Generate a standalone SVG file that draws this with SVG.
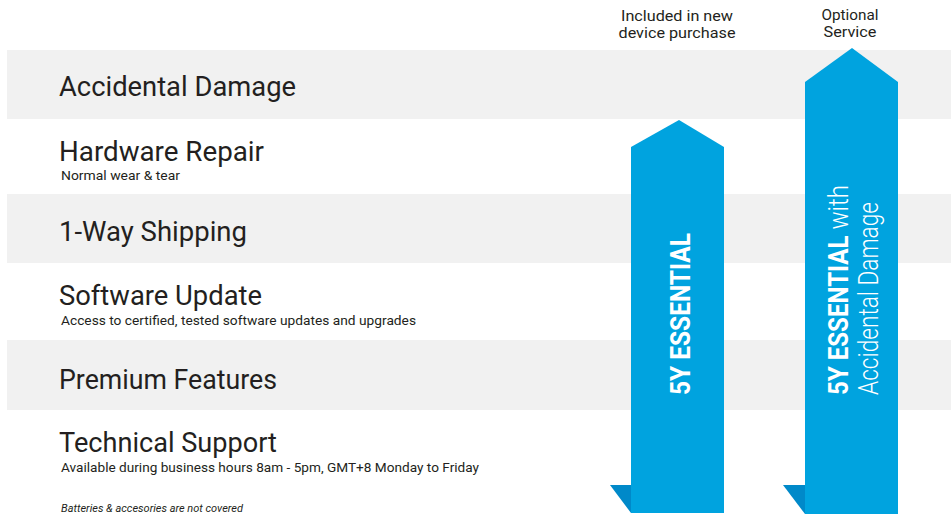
<svg xmlns="http://www.w3.org/2000/svg" width="951" height="515" viewBox="0 0 951 515">
<style>
.band{fill:#f1f1f1}
.t{font-family:Roboto,"Liberation Sans",sans-serif;fill:#231f20}
.h{font-size:28px}
.s{font-size:13px}
.hd{font-size:14.5px;text-anchor:middle}
.arr{fill:#00a3df}
.fold{fill:#0089c9}
.v{font-family:Roboto,"Liberation Sans",sans-serif;fill:#ffffff;font-size:28px}
.b{font-weight:bold}
.l{font-weight:300}
</style>
<rect width="951" height="515" fill="#ffffff"/>
<g id="bands">
<rect class="band" x="7" y="50" width="944" height="69"/>
<rect class="band" x="7" y="194" width="944" height="69"/>
<rect class="band" x="7" y="340" width="944" height="70"/>
</g>
<g id="features">
<text class="t h" x="59" y="96" textLength="237" lengthAdjust="spacingAndGlyphs">Accidental Damage</text>
<text class="t h" x="59" y="161" textLength="205" lengthAdjust="spacingAndGlyphs">Hardware Repair</text>
<text class="t s" x="61" y="180" textLength="119" lengthAdjust="spacingAndGlyphs">Normal wear &amp; tear</text>
<text class="t h" x="59" y="241" textLength="188" lengthAdjust="spacingAndGlyphs">1-Way Shipping</text>
<text class="t h" x="59" y="305" textLength="203" lengthAdjust="spacingAndGlyphs">Software Update</text>
<text class="t s" x="61" y="325" textLength="355" lengthAdjust="spacingAndGlyphs">Access to certified, tested software updates and upgrades</text>
<text class="t h" x="59" y="389" textLength="218" lengthAdjust="spacingAndGlyphs">Premium Features</text>
<text class="t h" x="59" y="452" textLength="218" lengthAdjust="spacingAndGlyphs">Technical Support</text>
<text class="t s" x="61" y="472" textLength="418" lengthAdjust="spacingAndGlyphs">Available during business hours 8am - 5pm, GMT+8 Monday to Friday</text>
<text class="t" x="61" y="512" font-size="10.5" font-style="italic" textLength="182" lengthAdjust="spacingAndGlyphs">Batteries &amp; accesories are not covered</text>
</g>
<g id="headers">
<text class="t hd" x="677" y="21" textLength="112" lengthAdjust="spacingAndGlyphs">Included in new</text>
<text class="t hd" x="677" y="38" textLength="117" lengthAdjust="spacingAndGlyphs">device purchase</text>
<text class="t hd" x="850" y="20" textLength="57" lengthAdjust="spacingAndGlyphs">Optional</text>
<text class="t hd" x="850" y="37" textLength="53" lengthAdjust="spacingAndGlyphs">Service</text>
</g>
<g id="arrow-essential">
<polygon class="arr" points="679,120 724,147 724,513 631,513 631,147"/>
<polygon class="fold" points="610,485 631,485 631,513"/>
<text class="v b" transform="translate(690,395) rotate(-90)" textLength="162" lengthAdjust="spacingAndGlyphs">5Y ESSENTIAL</text>
</g>
<g id="arrow-accidental">
<polygon class="arr" points="852,48 898,82 898,514 805,514 805,82"/>
<polygon class="fold" points="783,485 805,485 805,514"/>
<text class="v" transform="translate(848,395) rotate(-90)" textLength="210" lengthAdjust="spacingAndGlyphs"><tspan class="b">5Y ESSENTIAL</tspan><tspan class="l"> with</tspan></text>
<text class="v l" transform="translate(878,395) rotate(-90)" textLength="193" lengthAdjust="spacingAndGlyphs">Accidental Damage</text>
</g>
<g id="connectors"/>
</svg>
